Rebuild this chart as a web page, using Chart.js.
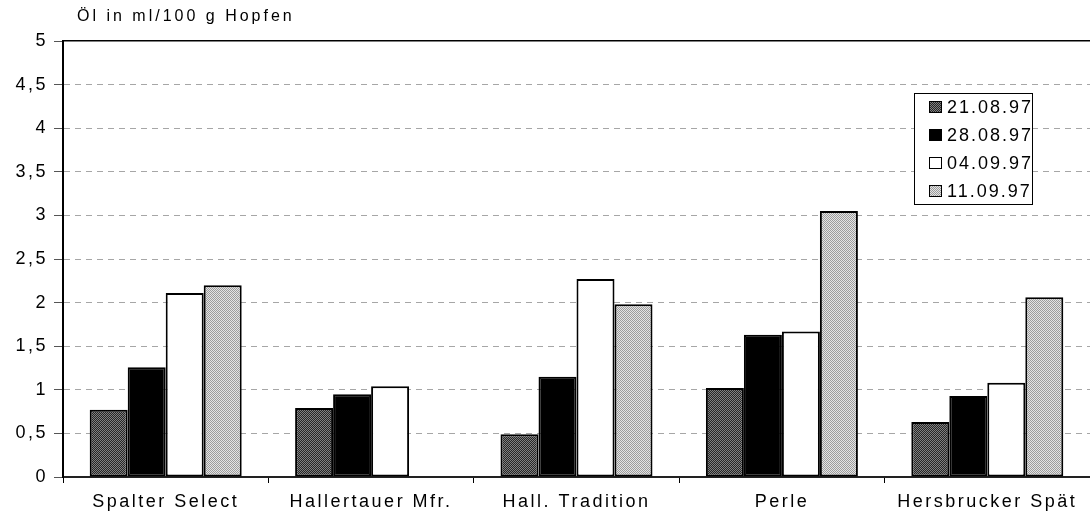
<!DOCTYPE html>
<html>
<head>
    <meta charset="utf-8">
    <title>Öl in ml/100 g Hopfen</title>
    <style>
        body {
            margin: 0;
            background: #fff;
        }
        #wrap {
            width: 1090px;
            height: 523px;
        }
    </style>
</head>
<body>
    <div id="wrap"><canvas id="oil-chart"></canvas></div>

    <script src="https://cdn.jsdelivr.net/npm/chart.js"></script>

    <script>
        // values (ml oil per 100 g hops)
        const varieties = ['Spalter Select', 'Hallertauer Mfr.', 'Hall. Tradition', 'Perle', 'Hersbrucker Spät'];
        const dates = ['21.08.97', '28.08.97', '04.09.97', '11.09.97'];
        const oil210897 = [0.77, 0.79, 0.49, 1.02, 0.63];
        const oil280897 = [1.26, 0.95, 1.15, 1.63, 0.93];
        const oil040997 = [2.11, 1.04, 2.27, 1.67, 1.08];
        const oil110997 = [2.2, null, 1.98, 3.05, 2.06];
        const yMin = 0, yMax = 5, yStep = 0.5;
        const yTitle = 'Öl in ml/100 g Hopfen';

        // small dithered fills like the old print
        function dither(base, dot) {
            const c = document.createElement('canvas');
            c.width = 2; c.height = 2;
            const g = c.getContext('2d');
            g.fillStyle = base;
            g.fillRect(0, 0, 2, 2);
            g.fillStyle = dot;
            g.fillRect(0, 0, 1, 1);
            g.fillRect(1, 1, 1, 1);
            return g.createPattern(c, 'repeat');
        }

        const fills = [dither('#262626', '#808080'), '#000000', '#ffffff', dither('#e4e4e4', '#9c9c9c')];
        const series = [oil210897, oil280897, oil040997, oil110997];

        const datasets = dates.map((d, i) => ({
            label: d,
            data: series[i],
            backgroundColor: fills[i],
            borderColor: '#000',
            borderWidth: 2,
            borderSkipped: false,
            barPercentage: 1.0,
            categoryPercentage: 0.74
        }));

        // letter spacing like the original labels
        const spacing = {
            id: 'spacing',
            beforeUpdate(chart) { chart.ctx.letterSpacing = '2.5px'; },
            beforeDraw(chart) { chart.ctx.letterSpacing = '2.5px'; }
        };

        // axis title at top left + legend box inside the plot
        const extras = {
            id: 'extras',
            afterDraw(chart) {
                const ctx = chart.ctx;
                ctx.save();
                ctx.fillStyle = '#000';
                ctx.font = '16px Arial';
                ctx.letterSpacing = '3px';
                ctx.textBaseline = 'middle';
                ctx.textAlign = 'left';
                ctx.fillText(yTitle, 77, 17);

                // legend
                const x = 914, y = 93, w = 118, h = 111;
                ctx.fillStyle = '#fff';
                ctx.fillRect(x, y, w, h);
                ctx.strokeStyle = '#000';
                ctx.lineWidth = 1;
                ctx.strokeRect(x + 0.5, y + 0.5, w, h);
                ctx.font = '18px Arial';
                ctx.letterSpacing = '2px';
                chart.data.datasets.forEach((ds, i) => {
                    const cy = y + 14 + i * 28;
                    ctx.fillStyle = ds.backgroundColor;
                    ctx.fillRect(x + 15, cy - 6, 13, 12);
                    ctx.strokeRect(x + 15.5, cy - 5.5, 12, 11);
                    ctx.fillStyle = '#000';
                    ctx.fillText(ds.label, x + 33, cy + 1);
                });
                ctx.restore();
            }
        };

        const ctx = document.getElementById('oil-chart').getContext('2d');

        const oilChart = new Chart(ctx, {
            type: 'bar',
            data: {
                labels: varieties,
                datasets: datasets
            },
            plugins: [spacing, extras],
            options: {
                responsive: true,
                maintainAspectRatio: false,
                animation: false,
                layout: {
                    padding: { top: 41, right: 0, left: 0, bottom: 0 }
                },
                plugins: {
                    legend: { display: false },
                    tooltip: { enabled: false }
                },
                scales: {
                    x: {
                        grid: {
                            display: true,
                            drawOnChartArea: false,
                            offset: true,
                            tickLength: 6,
                            color: '#000',
                            tickColor: '#000'
                        },
                        border: { color: '#222', width: 2 },
                        ticks: {
                            color: '#000',
                            padding: 8,
                            maxRotation: 0,
                            font: { family: 'Arial', size: 18 }
                        },
                        afterFit: s => { s.height = 46; }
                    },
                    xTop: {
                        type: 'category',
                        position: 'top',
                        labels: varieties,
                        grid: { display: false },
                        ticks: { display: false },
                        border: { display: true, color: '#000', width: 1.5 },
                        afterFit: s => { s.height = 0; }
                    },
                    y: {
                        min: yMin,
                        max: yMax,
                        ticks: {
                            stepSize: yStep,
                            color: '#000',
                            padding: 6,
                            font: { family: 'Arial', size: 18 },
                            callback: v => String(v).replace('.', ',')
                        },
                        grid: {
                            tickLength: 9,
                            lineWidth: 1,
                            color: c => (c.tick && (c.tick.value === yMin || c.tick.value === yMax)) ? 'rgba(0,0,0,0)' : '#a6a6a6',
                            tickColor: '#555'
                        },
                        border: { color: '#000', width: 2, dash: [6, 5] },
                        afterFit: s => { s.width = 63; }
                    }
                }
            }
        });
    </script>
</body>
</html>
